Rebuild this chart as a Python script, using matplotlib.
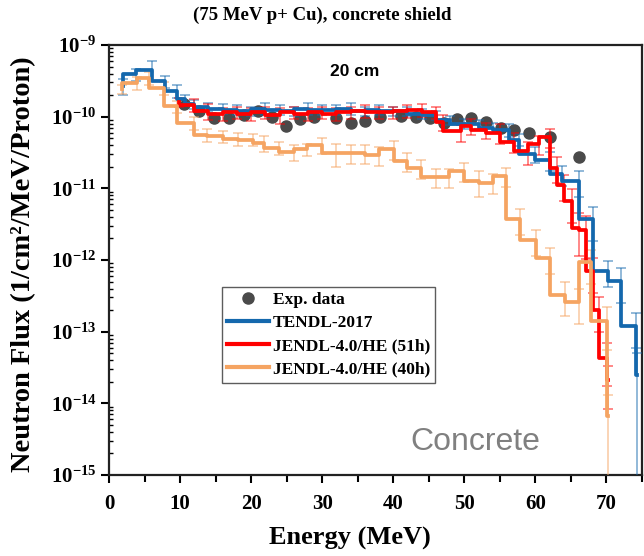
import matplotlib
matplotlib.use("Agg")
import matplotlib.pyplot as plt
from matplotlib.ticker import FuncFormatter, LogLocator, MultipleLocator, NullFormatter
import numpy as np

# ---- data (energy in MeV, flux in 1/cm2/MeV/proton)
exp_E = [10.6, 12.7, 14.8, 16.9, 19.0, 21.0, 23.0, 24.9, 26.9, 28.9, 31.9, 34.0, 36.0,
         38.2, 41.1, 43.2, 45.1, 47.1, 49.0, 50.9, 53.1, 55.2, 57.0, 59.1, 62.1, 66.1]
exp_F = [1.48e-10, 1.19e-10, 9.6e-11, 9.6e-11, 1.07e-10, 1.19e-10, 1.0e-10, 7.5e-11,
         9.3e-11, 1.0e-10, 9.6e-11, 8.2e-11, 8.6e-11, 1.0e-10, 1.02e-10, 1.0e-10,
         9.6e-11, 8.2e-11, 9.3e-11, 9.6e-11, 8.5e-11, 7.0e-11, 6.5e-11, 5.95e-11,
         5.2e-11, 2.75e-11]

# TENDL-2017 (right bin edge, value)
tendl_E = [1.9, 3.8, 6.0, 7.9, 9.5, 10.7, 12, 14, 16, 18, 20, 22, 24, 26, 28, 30, 32, 34,
           36, 38, 40, 42, 44, 46, 48, 50, 52, 54, 56.3, 57.7, 60.0, 62.0, 63.8, 66.2,
           68.1, 70.2, 72.1, 74.2, 74.3]
tendl_F = [2.66e-10, 3.9e-10, 4.55e-10, 3.1e-10, 2.27e-10, 1.74e-10, 1.5e-10, 1.35e-10,
           1.3e-10, 1.25e-10, 1.2e-10, 1.3e-10, 1.25e-10, 1.2e-10, 1.3e-10, 1.25e-10,
           1.25e-10, 1.3e-10, 1.2e-10, 1.25e-10, 1.2e-10, 1.2e-10, 1.1e-10, 1.05e-10,
           9.0e-11, 8.0e-11, 7.8e-11, 7.0e-11, 6.5e-11, 4.8e-11, 3.0e-11, 2.5e-11,
           1.56e-11, 1.26e-11, 3.7e-12, 7.0e-13, 5.1e-13, 1.2e-13, 2.5e-14]
tendl_err = [0.25, 0.2, 0.3, 0.2, 0.2, 0.15, 0.15, 0.15, 0.15, 0.15, 0.15, 0.2, 0.15,
             0.15, 0.2, 0.15, 0.15, 0.2, 0.15, 0.15, 0.15, 0.15, 0.15, 0.15, 0.15, 0.15,
             0.15, 0.15, 0.2, 0.2, 0.25, 0.3, 0.3, 0.4, 0.5, 0.4, 0.5, 0.5, 1.0]

# JENDL-4.0/HE (51h)
j51_E = [9.9, 12, 14, 16, 18, 20, 22, 24, 26, 28, 30, 32, 34, 36, 38, 40, 42, 44, 46,
         47, 49.5, 51, 53, 55, 57, 59, 60.5, 62, 63, 64, 65.2, 66.2, 67.1, 68.1, 69.0,
         70.1, 70.2]
j51_F = [1.6e-10, 1.45e-10, 1.2e-10, 1.1e-10, 1.15e-10, 1.1e-10, 1.15e-10, 1.05e-10,
         1.15e-10, 1.1e-10, 1.15e-10, 1.1e-10, 1.15e-10, 1.2e-10, 1.15e-10, 1.15e-10,
         1.2e-10, 1.25e-10, 1.15e-10, 8.5e-11, 6.3e-11, 7.4e-11, 6.6e-11, 6.0e-11,
         4.5e-11, 3.3e-11, 4.2e-11, 5.2e-11, 1.95e-11, 1.1e-11, 6.6e-12, 2.8e-12,
         2.6e-12, 7.0e-13, 2.0e-13, 4.3e-14, 2.1e-14]
j51_err = [0.15, 0.2, 0.25, 0.2, 0.2, 0.2, 0.2, 0.25, 0.2, 0.2, 0.2, 0.2, 0.2, 0.2, 0.2,
           0.2, 0.2, 0.2, 0.2, 0.25, 0.3, 0.25, 0.25, 0.3, 0.3, 0.35, 0.3, 0.3, 0.4, 0.4,
           0.5, 0.6, 0.6, 0.5, 0.5, 0.6, 0.6]

# JENDL-4.0/HE (40h)
j40_E = [1.8, 4.0, 5.6, 7.7, 9.6, 12.0, 13.8, 16.0, 18.2, 20.2, 21.8, 23.9, 26.0, 27.9,
         30.0, 32.0, 34.0, 36.0, 38.0, 40.1, 42.0, 43.9, 46.0, 47.9, 50.0, 52.1, 54.0,
         55.8, 57.9, 60.1, 62.0, 64.1, 66.2, 67.8, 70.1, 70.2]
j40_F = [2.4e-10, 2.97e-10, 3.5e-10, 2.5e-10, 1.4e-10, 8.2e-11, 5.6e-11, 5.3e-11,
         4.9e-11, 4.8e-11, 4.3e-11, 3.7e-11, 3.2e-11, 3.5e-11, 4.0e-11, 3.1e-11,
         3.1e-11, 3.1e-11, 2.9e-11, 3.5e-11, 2.4e-11, 1.9e-11, 1.45e-11, 1.45e-11,
         1.75e-11, 1.25e-11, 1.2e-11, 1.5e-11, 3.7e-12, 1.9e-12, 1.05e-12, 3.3e-13,
         2.6e-13, 9.3e-13, 1.4e-13, 6.6e-15]
j40_err = [0.15, 0.2, 0.2, 0.2, 0.2, 0.2, 0.2, 0.2, 0.2, 0.2, 0.25, 0.2, 0.25, 0.2, 0.25,
           0.35, 0.3, 0.3, 0.3, 0.3, 0.3, 0.3, 0.3, 0.3, 0.3, 0.4, 0.3, 0.3, 0.4, 0.4,
           0.4, 0.5, 0.5, 0.5, 0.6, 1.0]

series = [
    ("TENDL-2017", tendl_E, tendl_F, tendl_err, "#1468ad"),
    ("JENDL-4.0/HE (51h)", j51_E, j51_F, j51_err, "#ff0000"),
    ("JENDL-4.0/HE (40h)", j40_E, j40_F, j40_err, "#f5a462"),
]

plt.rcParams["font.family"] = "Liberation Serif"
plt.rcParams["font.weight"] = "bold"
plt.rcParams["mathtext.fontset"] = "custom"
plt.rcParams["mathtext.rm"] = "Liberation Serif:bold"
plt.rcParams["mathtext.bf"] = "Liberation Serif:bold"
plt.rcParams["mathtext.it"] = "Liberation Serif:bold"

fig = plt.figure(figsize=(6.44, 5.56), dpi=100)
ax = fig.add_axes([109 / 644, 1 - 475 / 556, 533 / 644, 430 / 556])
ax.set_yscale("log", nonpositive="clip")

# experiment
ax.plot(exp_E, exp_F, "o", color="#4a4a4a", ms=8, label="Exp. data", zorder=2)

# calculations: step lines + lighter error bars
for name, E, F, err, col in series:
    E = np.array(E)
    F = np.array(F)
    yerr = F * np.array(err)
    ax.errorbar(E, F, yerr=yerr, fmt="none", ecolor=col, alpha=0.5,
                elinewidth=1.3, capsize=3.5, capthick=1.3, zorder=3)
    ax.plot(E, F, drawstyle="steps-pre", color=col, lw=2.7, label=name, zorder=4)

ax.set_xlim(0, 75)
ax.set_ylim(1e-15, 1e-9)

ax.xaxis.set_major_locator(MultipleLocator(10))
ax.xaxis.set_minor_locator(MultipleLocator(5))
ax.yaxis.set_major_locator(LogLocator(base=10, numticks=10))
ax.yaxis.set_minor_locator(LogLocator(base=10, subs=np.arange(2, 10), numticks=10))
ax.yaxis.set_minor_formatter(NullFormatter())
ax.yaxis.set_major_formatter(
    FuncFormatter(lambda v, p: r"$10^{%d}$" % int(round(np.log10(v)))))

ax.tick_params(axis="x", which="major", direction="out", length=6, width=1.5,
               labelsize=15, pad=8)
ax.tick_params(axis="x", which="minor", direction="out", length=5, width=1.5)
ax.tick_params(axis="y", which="major", direction="out", length=6, width=1.5,
               labelsize=15, pad=3)
ax.tick_params(axis="y", which="minor", direction="in", length=3, width=1.0)
for s in ax.spines.values():
    s.set_linewidth(1.6)
    s.set_color("#222222")

fig.text(0.5, 1 - 15 / 556, "(75 MeV p+ Cu), concrete shield", ha="center",
         va="center", fontsize=13.5, fontweight="bold")
fig.text(23.5 / 644, 1 - 264 / 556, "Neutron Flux (1/cm²/MeV/Proton)", rotation=90,
         ha="center", va="center", fontsize=20.5, fontweight="bold")
fig.text(350 / 644, 1 - 538 / 556, "Energy (MeV)", ha="center", va="center",
         fontsize=19, fontweight="bold")

ax.text(0.4615, 0.938, "20 cm", transform=ax.transAxes, ha="center", va="center",
        fontsize=12.5, fontweight="bold", family="Liberation Sans")
ax.text(0.5647, 0.058, "Concrete", transform=ax.transAxes, ha="left", va="baseline",
        fontsize=23, color="#808080", family="Liberation Sans", fontweight="normal")

leg = ax.legend(loc="upper left", bbox_to_anchor=(0.2114, 0.438), borderaxespad=0,
                fontsize=12.5, frameon=True, fancybox=False, handlelength=2.4,
                handletextpad=0.25, borderpad=0.3, labelspacing=0.4)
leg.get_frame().set_edgecolor("#333333")
leg.get_frame().set_linewidth(1.0)
for h in leg.get_lines():
    h.set_linewidth(3)

fig.savefig("out.png", dpi=100)
